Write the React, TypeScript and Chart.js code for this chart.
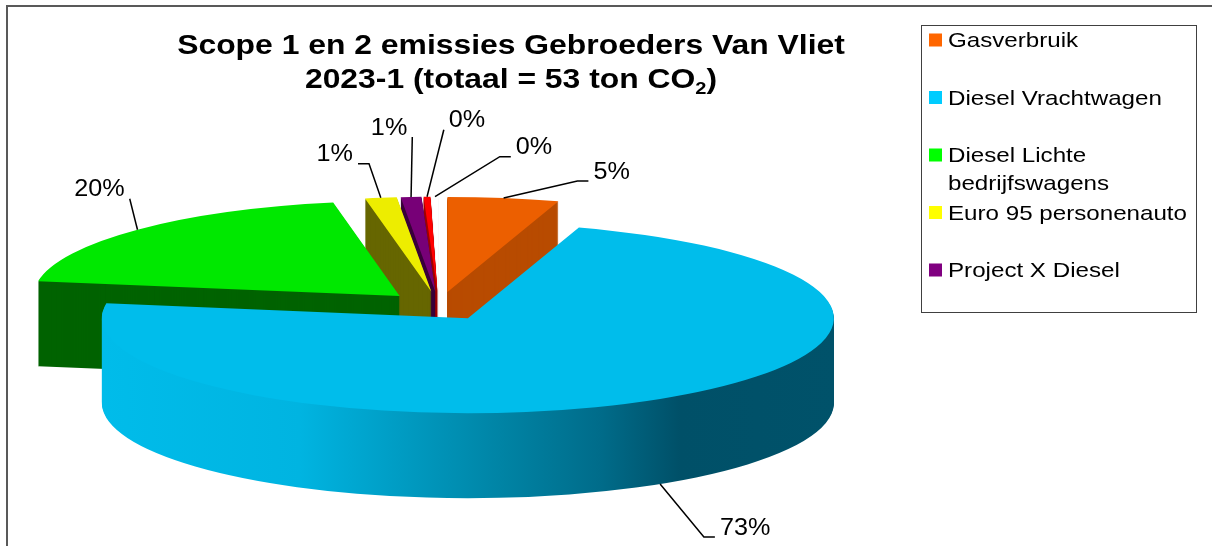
import React, { useEffect, useRef } from "react";
import { Chart, registerables } from "chart.js";

Chart.register(...registerables);

// ---------- data ----------
const TITLE_LINE_1 = "Scope 1 en 2 emissies Gebroeders Van Vliet";
const TITLE_LINE_2_PREFIX = "2023-1 (totaal = ";
const TITLE_LINE_2_UNIT = " ton CO";
const TITLE_SUBSCRIPT = "2";
const TITLE_SUFFIX = ")";

const categories = [
  "Gasverbruik",
  "Diesel Vrachtwagen",
  "Diesel Lichte bedrijfswagens",
  "Euro 95 personenauto",
  "Project X Diesel",
  "Elektriciteit",
  "Overig",
];
// ton CO2 per source
const emissions = [2.6, 38.48, 10.39, 0.74, 0.48, 0.16, 0.16];

// ---------- styles ----------
const legendColors = ["#FF6600", "#00CCFF", "#00FF00", "#FFFF00", "#800080", "#FF0000", "#FFFFFF"];
const topColors = ["#EC5F00", "#00BDEB", "#00E800", "#EDED00", "#770077", "#FF0000", "#FFFFFF"];
const sideColors = ["#B84B00", "#00BDEB", "#006300", "#666600", "#3A003A", "#9E0000", "#F4F4F4"];
const blueSideStops: [number, string][] = [
  [103, "rgb(0,188,234)"],
  [300, "rgb(0,180,225)"],
  [500, "rgb(0,132,165)"],
  [600, "rgb(0,108,138)"],
  [680, "rgb(0,80,104)"],
  [836, "rgb(0,82,106)"],
];
// label offsets from slice anchor: [dx, dy, elbow]
const labelNudges: [number, number, number][] = [
  [108, -26, 1],
  [85, 44, 1],
  [-38, -40, 0],
  [-46, -43, 1],
  [-22, -69, 0],
  [40, -76, 0],
  [99, -49, 1],
];

const FONT = '"Liberation Sans", Arial, sans-serif';
const RX = 366; // horizontal radius on screen
const RY = 95; // vertical radius on screen
const DEPTH = 85;
const EXPLODE = 55;
const W = 1212;
const H = 546;

function geom(chart: any) {
  const arcs = chart.getDatasetMeta(0).data as any[];
  const a0 = arcs[0];
  const cx = a0.x;
  const cy = a0.y;
  const R0 = a0.outerRadius;
  const sx = RX / R0;
  const sy = RY / R0;
  const e = EXPLODE / sx;
  return { arcs, cx, cy, R0, sx, sy, e };
}

function stretched(ctx: CanvasRenderingContext2D, text: string, x: number, y: number, k: number, align: CanvasTextAlign) {
  ctx.save();
  ctx.translate(x, y);
  ctx.scale(k, 1);
  ctx.textAlign = align;
  ctx.fillText(text, 0, 0);
  ctx.restore();
}

const pie3d = {
  id: "pie3d",
  beforeDraw(chart: any) {
    const ctx = chart.ctx as CanvasRenderingContext2D;
    ctx.save();
    ctx.fillStyle = "#FFFFFF";
    ctx.fillRect(0, 0, chart.width, chart.height);
    // outer frame
    ctx.strokeStyle = "#595959";
    ctx.lineWidth = 2;
    ctx.beginPath();
    ctx.moveTo(7, H + 5);
    ctx.lineTo(7, 6);
    ctx.lineTo(W + 5, 6);
    ctx.stroke();
    ctx.restore();
  },
  beforeDatasetsDraw(chart: any) {
    const ctx = chart.ctx as CanvasRenderingContext2D;
    const dpr = chart.currentDevicePixelRatio || 1;
    const { arcs, cx, cy, sx, sy, e } = geom(chart);
    const mids = arcs.map((a: any) => (a.startAngle + a.endAngle) / 2);
    const order = arcs.map((_: any, i: number) => i).sort((i: number, j: number) => Math.sin(mids[i]) - Math.sin(mids[j]));

    const place = (i: number, dy: number) => {
      ctx.translate(0, dy);
      ctx.translate(cx, cy);
      ctx.scale(sx, sy);
      ctx.translate(-cx, -cy);
      ctx.translate(Math.cos(mids[i]) * e, Math.sin(mids[i]) * e);
    };

    // extruded sides
    for (const i of order) {
      const arc = arcs[i];
      let fill: any = sideColors[i];
      if (i === 1) {
        const g = ctx.createLinearGradient(blueSideStops[0][0], 0, blueSideStops[blueSideStops.length - 1][0], 0);
        const x0 = blueSideStops[0][0];
        const span = blueSideStops[blueSideStops.length - 1][0] - x0;
        for (const [x, c] of blueSideStops) g.addColorStop((x - x0) / span, c);
        fill = g;
      }
      for (let d = DEPTH; d >= 1; d--) {
        ctx.save();
        place(i, d);
        ctx.beginPath();
        ctx.moveTo(arc.x, arc.y);
        ctx.arc(arc.x, arc.y, arc.outerRadius, arc.startAngle, arc.endAngle);
        ctx.closePath();
        ctx.setTransform(dpr, 0, 0, dpr, 0, 0);
        ctx.fillStyle = fill;
        ctx.fill();
        ctx.restore();
      }
    }
    // top faces drawn by the arc elements themselves
    for (let i = 0; i < arcs.length; i++) {
      ctx.save();
      place(i, 0);
      arcs[i].draw(ctx);
      ctx.restore();
    }
    return false;
  },
  afterDraw(chart: any) {
    const ctx = chart.ctx as CanvasRenderingContext2D;
    const { arcs, cx, cy, R0, sx, sy, e } = geom(chart);
    const total = emissions.reduce((s, v) => s + v, 0);

    // ----- title -----
    ctx.save();
    ctx.fillStyle = "#000000";
    ctx.textBaseline = "alphabetic";
    const TK = 1.18;
    ctx.font = `bold 27px ${FONT}`;
    stretched(ctx, TITLE_LINE_1, 511, 54, TK, "center");
    const main = TITLE_LINE_2_PREFIX + Math.round(total) + TITLE_LINE_2_UNIT;
    const w1 = ctx.measureText(main).width * TK;
    const w3 = ctx.measureText(TITLE_SUFFIX).width * TK;
    ctx.font = `bold 17px ${FONT}`;
    const w2 = ctx.measureText(TITLE_SUBSCRIPT).width * TK;
    let x = 511 - (w1 + w2 + w3) / 2;
    ctx.font = `bold 27px ${FONT}`;
    stretched(ctx, main, x, 88, TK, "left");
    x += w1;
    ctx.font = `bold 17px ${FONT}`;
    stretched(ctx, TITLE_SUBSCRIPT, x, 94, TK, "left");
    x += w2;
    ctx.font = `bold 27px ${FONT}`;
    stretched(ctx, TITLE_SUFFIX, x, 88, TK, "left");
    ctx.restore();

    // ----- data labels -----
    ctx.save();
    ctx.font = `24px ${FONT}`;
    ctx.fillStyle = "#000000";
    ctx.strokeStyle = "#000000";
    ctx.lineWidth = 1.5;
    ctx.textBaseline = "middle";
    const LK = 1.05;
    arcs.forEach((arc: any, i: number) => {
      const m = (arc.startAngle + arc.endAngle) / 2;
      const c = Math.cos(m);
      const s = Math.sin(m);
      const ax = cx + sx * c * (e + R0);
      let ay = cy + sy * s * (e + R0);
      if (s > 0) ay += DEPTH;
      const [dx, dy, elbow] = labelNudges[i];
      const tx = ax + dx;
      const ty = ay + dy;
      const txt = Math.round((emissions[i] / total) * 100) + "%";
      const tw = ctx.measureText(txt).width * LK;
      const attachX = dx > 0 ? tx - tw / 2 - 5 : tx + tw / 2 + 5;
      const attachY = ty + 9;
      ctx.beginPath();
      ctx.moveTo(ax, ay);
      if (elbow) ctx.lineTo(attachX + (dx > 0 ? -11 : 11), attachY);
      ctx.lineTo(attachX, attachY);
      ctx.stroke();
      stretched(ctx, txt, tx, ty, LK, "center");
    });
    ctx.restore();

    // ----- legend -----
    ctx.save();
    const bx = 921, by = 25, bw = 275, bh = 287;
    ctx.fillStyle = "#FFFFFF";
    ctx.fillRect(bx, by, bw, bh);
    ctx.strokeStyle = "#404040";
    ctx.lineWidth = 1;
    ctx.strokeRect(bx + 0.5, by + 0.5, bw, bh);
    const GK = 1.15;
    ctx.font = `21px ${FONT}`;
    ctx.textBaseline = "alphabetic";
    const textX = 948;
    const maxW = bx + bw - textX - 2;
    for (let i = 0; i < categories.length; i++) {
      const base = 47 + 57.5 * i;
      if (base > by + bh) break;
      // wrap
      const words = categories[i].split(" ");
      const lines: string[] = [];
      let cur = "";
      for (const wd of words) {
        const t = cur ? cur + " " + wd : wd;
        if (ctx.measureText(t).width * GK > maxW && cur) {
          lines.push(cur);
          cur = wd;
        } else cur = t;
      }
      if (cur) lines.push(cur);
      ctx.fillStyle = legendColors[i];
      ctx.fillRect(929, base - 13.5, 13, 13);
      ctx.fillStyle = "#000000";
      lines.forEach((ln, k) => stretched(ctx, ln, textX, base + k * 28, GK, "left"));
    }
    ctx.restore();
  },
};

export default function App() {
  const ref = useRef<HTMLCanvasElement | null>(null);
  useEffect(() => {
    if (!ref.current) return;
    const chart = new Chart(ref.current, {
      type: "pie",
      data: {
        labels: categories,
        datasets: [
          {
            data: emissions,
            backgroundColor: topColors,
            borderWidth: 0,
            offset: 0,
            clip: false as any,
          },
        ],
      },
      options: {
        responsive: false,
        animation: false,
        events: [],
        layout: { padding: { left: 339, right: 673, top: 206, bottom: 140 } },
        plugins: {
          legend: { display: false },
          title: { display: false },
          tooltip: { enabled: false },
        },
      },
      plugins: [pie3d as any],
    });
    return () => chart.destroy();
  }, []);
  return (
    <div style={{ position: "fixed", left: 0, top: 0, width: W, height: H, overflow: "hidden", background: "#fff" }}>
      <canvas ref={ref} width={W} height={H} style={{ display: "block" }} />
    </div>
  );
}
